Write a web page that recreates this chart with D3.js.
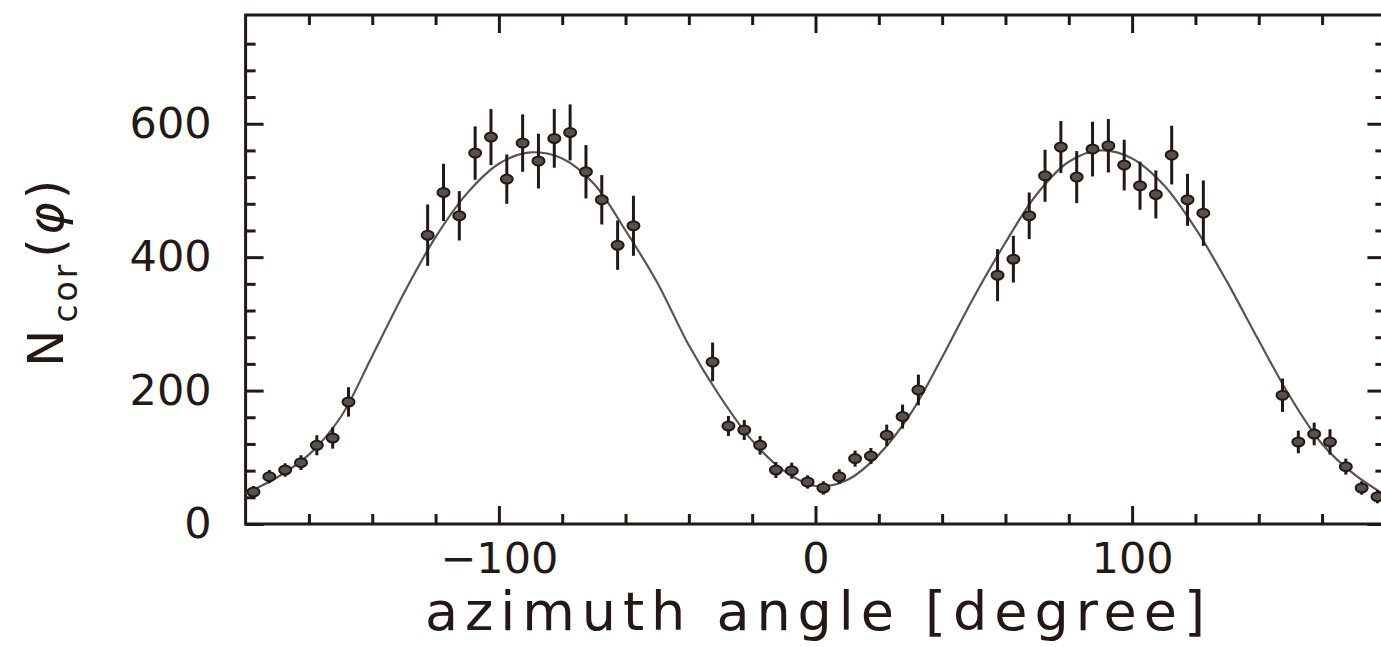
<!DOCTYPE html>
<html>
<head>
<meta charset="utf-8">
<script src="https://cdn.jsdelivr.net/npm/d3@7/dist/d3.min.js"></script>
<style>
  html, body { margin: 0; padding: 0; background: #fff; }
  svg { display: block; }
  text { font-family: "DejaVu Sans", sans-serif; fill: #231815; }
</style>
</head>
<body>
<svg id="chart" width="1381" height="647"></svg>
<script>
// Azimuthal distribution of corrected counts, with fitted curve
const angle = [
  -177.5, -172.5, -167.5, -162.5, -157.5, -152.5, -147.5,
  -122.5, -117.5, -112.5, -107.5, -102.5, -97.5, -92.5, -87.5, -82.5, -77.5, -72.5, -67.5, -62.5, -57.5,
  -32.5, -27.5, -22.5, -17.5, -12.5, -7.5, -2.5, 2.5, 7.5, 12.5, 17.5, 22.5, 27.5, 32.5,
  57.5, 62.5, 67.5, 72.5, 77.5, 82.5, 87.5, 92.5, 97.5, 102.5, 107.5, 112.5, 117.5, 122.5,
  147.5, 152.5, 157.5, 162.5, 167.5, 172.5, 177.5
];
const counts = [
  48, 71, 81, 92, 118, 129, 183,
  433, 497, 462, 556, 580, 517, 571, 544, 578, 587, 528, 486, 418, 447,
  243, 147, 141, 118, 81, 80, 63, 54, 71, 98, 102, 133, 161, 201,
  373, 397, 462, 522, 565, 520, 562, 567, 538, 507, 494, 553, 486, 466,
  193, 123, 135, 123, 86, 54, 41
];
const errors = [
  9, 10, 10, 11, 15, 16, 22,
  46, 43, 37, 40, 42, 37, 43, 41, 44, 42, 40, 37, 37, 45,
  29, 15, 15, 14, 12, 12, 10, 10, 11, 12, 12, 16, 18, 23,
  39, 35, 35, 39, 39, 39, 41, 40, 38, 36, 36, 44, 39, 49,
  25, 17, 17, 19, 12, 10, 10
];

// Fitted curve, sampled every 10 degrees
const fitAngle = [
  -180, -170, -160, -150, -140, -130, -120, -110, -100, -90, -80, -70, -60, -50, -40, -30, -20, -10,
  0, 10, 20, 30, 40, 50, 60, 70, 80, 90, 100, 110, 120, 130, 140, 150, 160, 170, 180
];
const fitCount = [
  46, 70, 104, 160, 252, 346, 430, 496, 540, 557, 548, 510, 440, 362, 268, 190, 125, 80,
  57, 66, 104, 165, 250, 340, 422, 495, 543, 560, 548, 508, 443, 363, 275, 190, 120, 75, 43
];

// Axis ticks
const xMajor = [-100, 0, 100];
const xMinor = [-160, -140, -120, -80, -60, -40, -20, 20, 40, 60, 80, 120, 140, 160];
const yMajor = [0, 200, 400, 600];
const yMinor = [40, 80, 120, 160, 240, 280, 320, 360, 440, 480, 520, 560, 640, 680, 720];

const ink = "#231815";
const svg = d3.select("#chart");

const x = d3.scaleLinear().domain([-180, 180]).range([245.6, 1385.4]);
const y = d3.scaleLinear().domain([0, 763]).range([524, 15]);

const fmt = d => d < 0 ? "\u2212" + Math.abs(d) : String(d);

function styleAxis(g) {
  g.select(".domain").remove();
  g.selectAll(".tick line").attr("stroke", ink).attr("stroke-width", 3);
  g.selectAll(".tick text").attr("font-size", 43).attr("fill", ink)
    .style("font-family", "'DejaVu Sans', sans-serif");
}

const majorLen = 18, minorLen = 10;

// bottom
svg.append("g").attr("transform", `translate(0,${y(0)})`)
  .call(d3.axisBottom(x).tickValues(xMajor).tickSize(-majorLen).tickPadding(18).tickFormat(fmt))
  .call(styleAxis);
svg.append("g").attr("transform", `translate(0,${y(0)})`)
  .call(d3.axisBottom(x).tickValues(xMinor).tickSize(-minorLen).tickFormat(""))
  .call(styleAxis);
// top
svg.append("g").attr("transform", `translate(0,${y.range()[1]})`)
  .call(d3.axisTop(x).tickValues(xMajor).tickSize(-majorLen).tickFormat(""))
  .call(styleAxis);
svg.append("g").attr("transform", `translate(0,${y.range()[1]})`)
  .call(d3.axisTop(x).tickValues(xMinor).tickSize(-minorLen).tickFormat(""))
  .call(styleAxis);
// left
svg.append("g").attr("transform", `translate(${x(-180)},0)`)
  .call(d3.axisLeft(y).tickValues(yMajor).tickSize(-majorLen).tickPadding(34).tickFormat(fmt))
  .call(styleAxis);
svg.append("g").attr("transform", `translate(${x(-180)},0)`)
  .call(d3.axisLeft(y).tickValues(yMinor).tickSize(-minorLen).tickFormat(""))
  .call(styleAxis);
// right
svg.append("g").attr("transform", `translate(${x(180)},0)`)
  .call(d3.axisRight(y).tickValues(yMajor).tickSize(-majorLen).tickFormat(""))
  .call(styleAxis);
svg.append("g").attr("transform", `translate(${x(180)},0)`)
  .call(d3.axisRight(y).tickValues(yMinor).tickSize(-minorLen).tickFormat(""))
  .call(styleAxis);

// frame
svg.append("rect")
  .attr("x", x(-180)).attr("y", y.range()[1])
  .attr("width", x(180) - x(-180)).attr("height", y(0) - y.range()[1])
  .attr("fill", "none").attr("stroke", ink).attr("stroke-width", 3);

// fitted curve
const fit = fitAngle.map((a, i) => [a, fitCount[i]]);
svg.append("path")
  .datum(fit)
  .attr("fill", "none")
  .attr("stroke", "#555")
  .attr("stroke-width", 2.2)
  .attr("d", d3.line().x(d => x(d[0])).y(d => y(d[1])).curve(d3.curveCatmullRom.alpha(0.5)));

// data points with error bars
const pts = angle.map((a, i) => ({ a, n: counts[i], e: errors[i] }));
const pg = svg.append("g");
pg.selectAll("line.err").data(pts).join("line")
  .attr("class", "err")
  .attr("x1", d => x(d.a)).attr("x2", d => x(d.a))
  .attr("y1", d => y(d.n - d.e)).attr("y2", d => y(d.n + d.e))
  .attr("stroke", ink).attr("stroke-width", 3);
pg.selectAll("ellipse").data(pts).join("ellipse")
  .attr("cx", d => x(d.a)).attr("cy", d => y(d.n))
  .attr("rx", 6).attr("ry", 4.5)
  .attr("fill", "#57504d").attr("stroke", ink).attr("stroke-width", 2);

// axis titles
svg.append("text")
  .attr("x", 425).attr("y", 630)
  .attr("font-size", 54)
  .attr("textLength", 780).attr("lengthAdjust", "spacing")
  .text("azimuth angle [degree]");

const yt = svg.append("text")
  .attr("transform", "translate(63,367) rotate(-90)")
  .attr("font-size", 50)
  .attr("letter-spacing", 3);
yt.append("tspan").text("N");
yt.append("tspan").attr("font-size", 33).attr("dy", 14).attr("dx", 4).text("cor");
yt.append("tspan").attr("dy", -14).attr("dx", 4).text("(");
yt.append("tspan").attr("font-style", "italic").text("\u03C6");
yt.append("tspan").text(")");
</script>
</body>
</html>
